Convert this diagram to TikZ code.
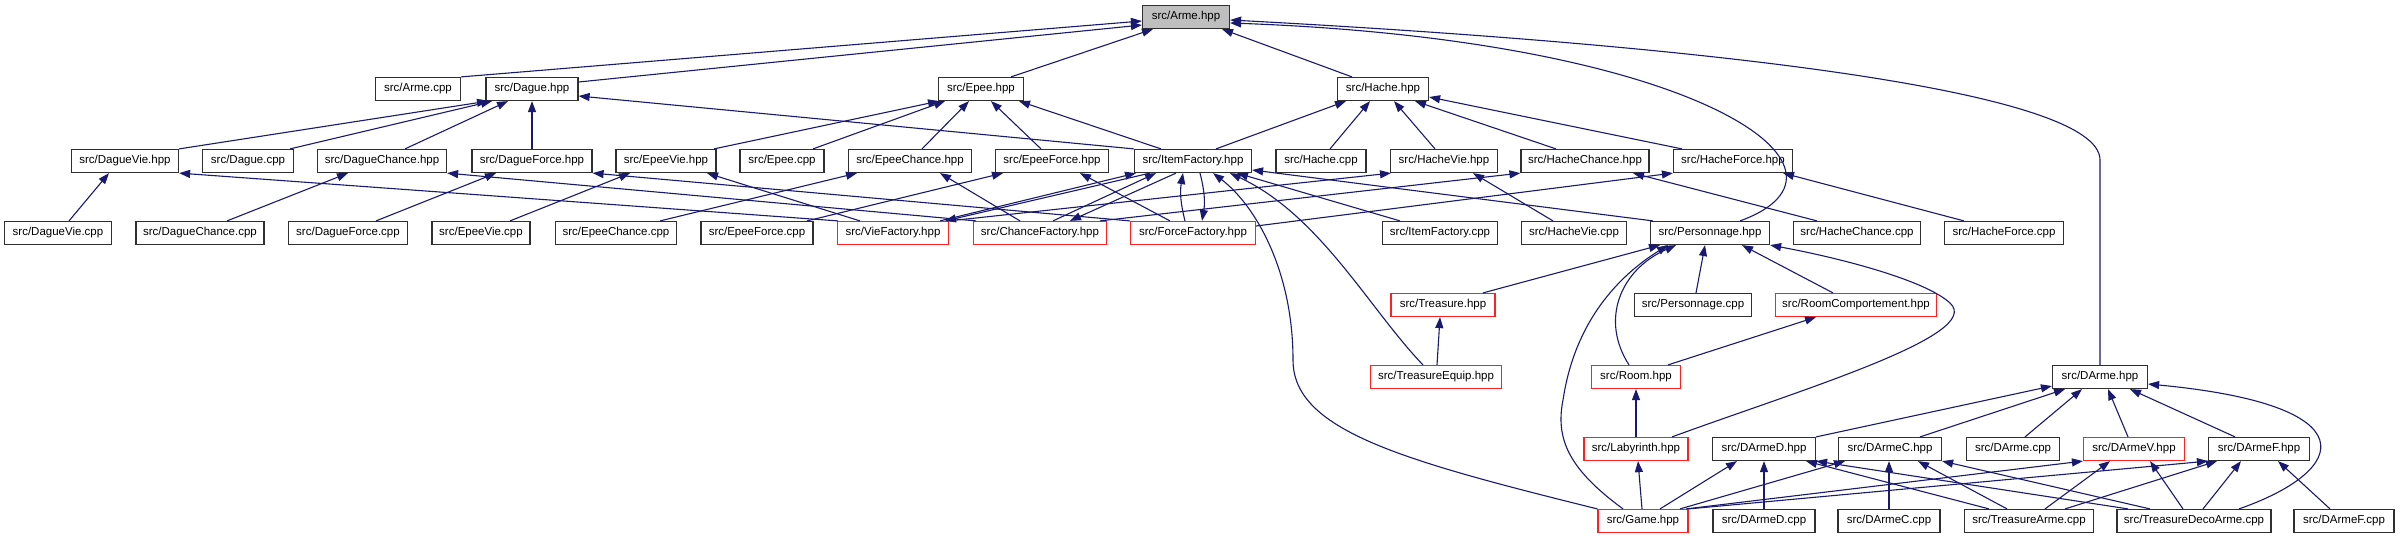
\documentclass[tikz,border=0pt]{standalone}
\usepackage{fontspec}
\setmainfont{Liberation Sans}
\usetikzlibrary{arrows.meta}
\definecolor{dblue}{HTML}{191970}
\definecolor{nred}{HTML}{FF2020}
\definecolor{nborder}{HTML}{303030}
\tikzset{
 box/.style={draw=nborder, line width=1.2pt, fill=white, minimum height=23pt, inner sep=0pt, font=\fontsize{11.5}{13}\selectfont},
 redbox/.style={box, draw=nred},
 rootbox/.style={box, fill=black!25},
 lnk/.style={draw=dblue, line width=1.1pt, -{Triangle[length=11pt,width=8pt]}},
}
\begin{document}
\begin{tikzpicture}[x=1pt,y=-1pt]
\useasboundingbox (0,0) rectangle (2401,539);
% row 0
\node[rootbox,minimum width=87] (ArmeH) at (1186,17) {src/Arme.hpp};
% row 1
\node[box,minimum width=85] (ArmeCpp) at (418,89) {src/Arme.cpp};
\node[box,minimum width=92] (DagueH) at (532,89) {src/Dague.hpp};
\node[box,minimum width=85] (EpeeH) at (981,89) {src/Epee.hpp};
\node[box,minimum width=91] (HacheH) at (1383,89) {src/Hache.hpp};
% row 2
\node[box,minimum width=107] (DagueVieH) at (125,161) {src/DagueVie.hpp};
\node[box,minimum width=91] (DagueCpp) at (248,161) {src/Dague.cpp};
\node[box,minimum width=129] (DagueChanceH) at (382,161) {src/DagueChance.hpp};
\node[box,minimum width=120] (DagueForceH) at (532,161) {src/DagueForce.hpp};
\node[box,minimum width=100] (EpeeVieH) at (666,161) {src/EpeeVie.hpp};
\node[box,minimum width=84] (EpeeCpp) at (782,161) {src/Epee.cpp};
\node[box,minimum width=123] (EpeeChanceH) at (910,161) {src/EpeeChance.hpp};
\node[box,minimum width=113] (EpeeForceH) at (1052,161) {src/EpeeForce.hpp};
\node[box,minimum width=117] (ItemFactoryH) at (1193,161) {src/ItemFactory.hpp};
\node[box,minimum width=90] (HacheCpp) at (1321,161) {src/Hache.cpp};
\node[box,minimum width=107] (HacheVieH) at (1444,161) {src/HacheVie.hpp};
\node[box,minimum width=128] (HacheChanceH) at (1585,161) {src/HacheChance.hpp};
\node[box,minimum width=119] (HacheForceH) at (1733,161) {src/HacheForce.hpp};
% row 3
\node[box,minimum width=107] (DagueVieCpp) at (58,233) {src/DagueVie.cpp};
\node[box,minimum width=128] (DagueChanceCpp) at (200,233) {src/DagueChance.cpp};
\node[box,minimum width=119] (DagueForceCpp) at (348,233) {src/DagueForce.cpp};
\node[box,minimum width=98] (EpeeVieCpp) at (481,233) {src/EpeeVie.cpp};
\node[box,minimum width=121] (EpeeChanceCpp) at (616,233) {src/EpeeChance.cpp};
\node[box,minimum width=112] (EpeeForceCpp) at (757,233) {src/EpeeForce.cpp};
\node[redbox,minimum width=111] (VieFactoryH) at (893,233) {src/VieFactory.hpp};
\node[redbox,minimum width=133] (ChanceFactoryH) at (1040,233) {src/ChanceFactory.hpp};
\node[redbox,minimum width=125] (ForceFactoryH) at (1193,233) {src/ForceFactory.hpp};
\node[box,minimum width=115] (ItemFactoryCpp) at (1440,233) {src/ItemFactory.cpp};
\node[box,minimum width=105] (HacheVieCpp) at (1574,233) {src/HacheVie.cpp};
\node[box,minimum width=119] (PersonnageH) at (1710,233) {src/Personnage.hpp};
\node[box,minimum width=127] (HacheChanceCpp) at (1857,233) {src/HacheChance.cpp};
\node[box,minimum width=119] (HacheForceCpp) at (2004,233) {src/HacheForce.cpp};
% row 4
\node[redbox,minimum width=104] (TreasureH) at (1443,305) {src/Treasure.hpp};
\node[box,minimum width=117] (PersonnageCpp) at (1693,305) {src/Personnage.cpp};
\node[redbox,minimum width=161] (RoomCompH) at (1856,305) {src/RoomComportement.hpp};
% row 5
\node[redbox,minimum width=131] (TreasureEquipH) at (1436,377) {src/TreasureEquip.hpp};
\node[redbox,minimum width=89] (RoomH) at (1636,377) {src/Room.hpp};
\node[box,minimum width=95] (DArmeH) at (2100,377) {src/DArme.hpp};
% row 6
\node[redbox,minimum width=104] (LabyrinthH) at (1636,449) {src/Labyrinth.hpp};
\node[box,minimum width=103] (DArmeDH) at (1764,449) {src/DArmeD.hpp};
\node[box,minimum width=103] (DArmeCH) at (1890,449) {src/DArmeC.hpp};
\node[box,minimum width=93] (DArmeCpp) at (2013,449) {src/DArme.cpp};
\node[redbox,minimum width=101] (DArmeVH) at (2134,449) {src/DArmeV.hpp};
\node[box,minimum width=101] (DArmeFH) at (2259,449) {src/DArmeF.hpp};
% row 7
\node[redbox,minimum width=90] (GameH) at (1643,521) {src/Game.hpp};
\node[box,minimum width=102] (DArmeDCpp) at (1764,521) {src/DArmeD.cpp};
\node[box,minimum width=102] (DArmeCCpp) at (1889,521) {src/DArmeC.cpp};
\node[box,minimum width=129] (TreasureArmeCpp) at (2029,521) {src/TreasureArme.cpp};
\node[box,minimum width=154] (TreasureDecoArmeCpp) at (2194,521) {src/TreasureDecoArme.cpp};
\node[box,minimum width=100] (DArmeFCpp) at (2344,521) {src/DArmeF.cpp};

% ---- edges to Arme.hpp
\draw[lnk] (ArmeCpp.north east) -- ([yshift=-4]ArmeH.west);
\draw[lnk] ([yshift=7]DagueH.east) -- ([yshift=-8]ArmeH.west);
\draw[lnk] ([xshift=30]EpeeH.north) -- ([xshift=-33]ArmeH.south);
\draw[lnk] ([xshift=-31]HacheH.north) -- ([xshift=36]ArmeH.south);
\draw[lnk] ([xshift=30]PersonnageH.north) .. controls (1880,170) and (1700,40) .. ([yshift=-6]ArmeH.east);
\draw[lnk] (DArmeH.north) -- (2100,160) .. controls (2100,90) and (1700,45) .. ([yshift=-3]ArmeH.east);
% ---- to Dague.hpp
\draw[lnk] (DagueVieH.north east) -- ([xshift=-44]DagueH.south);
\draw[lnk] ([xshift=42]DagueCpp.north) -- ([xshift=-40]DagueH.south);
\draw[lnk] ([xshift=23]DagueChanceH.north) -- ([xshift=-24]DagueH.south);
\draw[lnk] (DagueForceH.north) -- (DagueH.south);
\draw[lnk] (ItemFactoryH.north west) -- ([yshift=-7]DagueH.east);
% ---- to Epee.hpp
\draw[lnk] ([xshift=48]EpeeVieH.north) -- ([xshift=-42]EpeeH.south);
\draw[lnk] ([xshift=31]EpeeCpp.north) -- ([xshift=-36]EpeeH.south);
\draw[lnk] ([xshift=12]EpeeChanceH.north) -- ([xshift=-12]EpeeH.south);
\draw[lnk] ([xshift=-11]EpeeForceH.north) -- ([xshift=10]EpeeH.south);
\draw[lnk] ([xshift=-32]ItemFactoryH.north) -- ([xshift=38]EpeeH.south);
% ---- to Hache.hpp
\draw[lnk] ([xshift=23]ItemFactoryH.north) -- ([xshift=-37]HacheH.south);
\draw[lnk] ([xshift=9]HacheCpp.north) -- ([xshift=-13]HacheH.south);
\draw[lnk] ([xshift=-9]HacheVieH.north) -- ([xshift=11]HacheH.south);
\draw[lnk] ([xshift=-29]HacheChanceH.north) -- ([xshift=32]HacheH.south);
\draw[lnk] ([xshift=-51]HacheForceH.north) -- ([yshift=-8]HacheH.east);
% ---- row 3 to row 2
\draw[lnk] ([xshift=11]DagueVieCpp.north) -- ([xshift=-16]DagueVieH.south);
\draw[lnk] ([xshift=27]DagueChanceCpp.north) -- ([xshift=-34]DagueChanceH.south);
\draw[lnk] ([xshift=28]DagueForceCpp.north) -- ([xshift=-36]DagueForceH.south);
\draw[lnk] ([xshift=29]EpeeVieCpp.north) -- ([xshift=-36]EpeeVieH.south);
\draw[lnk] ([xshift=44]EpeeChanceCpp.north) -- ([xshift=-53]EpeeChanceH.south);
\draw[lnk] ([xshift=50]EpeeForceCpp.north) -- ([xshift=-49]EpeeForceH.south);
\draw[lnk] ([xshift=-55]VieFactoryH.north) -- (DagueVieH.south east);
\draw[lnk] ([xshift=-33]VieFactoryH.north) -- ([xshift=41]EpeeVieH.south);
\draw[lnk] (VieFactoryH.north east) -- ([xshift=-53]HacheVieH.south);
\draw[lnk] ([xshift=47]VieFactoryH.north) -- ([xshift=-57]ItemFactoryH.south);
\draw[lnk] ([xshift=-43]ItemFactoryH.south) -- ([xshift=52]VieFactoryH.north);
\draw[lnk] ([xshift=-64]ChanceFactoryH.north) -- (DagueChanceH.south east);
\draw[lnk] ([xshift=-20]ChanceFactoryH.north) -- ([xshift=30]EpeeChanceH.south);
\draw[lnk] ([xshift=60]ChanceFactoryH.north) -- (HacheChanceH.south west);
\draw[lnk] ([xshift=13]ChanceFactoryH.north) -- ([xshift=-37]ItemFactoryH.south);
\draw[lnk] ([xshift=-17]ItemFactoryH.south) -- ([xshift=30]ChanceFactoryH.north);
\draw[lnk] (ForceFactoryH.north west) -- (DagueForceH.south east);
\draw[lnk] ([xshift=-23]ForceFactoryH.north) -- ([xshift=28]EpeeForceH.south);
\draw[lnk] ([yshift=7]ForceFactoryH.east) -- (HacheForceH.south west);
\draw[lnk] ([xshift=-8]ForceFactoryH.north) to[bend left=12] ([xshift=-10]ItemFactoryH.south);
\draw[lnk] ([xshift=7]ItemFactoryH.south) to[bend left=12] ([xshift=9]ForceFactoryH.north);
\draw[lnk] ([xshift=-40]ItemFactoryCpp.north) -- ([xshift=44]ItemFactoryH.south);
\draw[lnk] ([xshift=-57]PersonnageH.north) -- ([yshift=-9]ItemFactoryH.east);
\draw[lnk] ([xshift=-21]HacheVieCpp.north) -- ([xshift=29]HacheVieH.south);
\draw[lnk] ([xshift=-40]HacheChanceCpp.north) -- ([xshift=48]HacheChanceH.south);
\draw[lnk] ([xshift=-40]HacheForceCpp.north) -- ([xshift=50]HacheForceH.south);
\draw[lnk] (GameH.north west) .. controls (1400,460) and (1293,430) .. (1293,360) .. controls (1293,270) and (1255,205) .. ([xshift=20]ItemFactoryH.south);
\draw[lnk] ([xshift=-13]TreasureEquipH.north) .. controls (1370,310) and (1320,215) .. ([xshift=37]ItemFactoryH.south);
% ---- to Personnage.hpp
\draw[lnk] ([xshift=40]TreasureH.north) -- ([xshift=-50]PersonnageH.south);
\draw[lnk] ([xshift=3]PersonnageCpp.north) -- ([xshift=-5]PersonnageH.south);
\draw[lnk] ([xshift=-23]RoomCompH.north) -- ([xshift=32]PersonnageH.south);
\draw[lnk] ([xshift=-7]RoomH.north) .. controls (1600,320) and (1620,270) .. ([xshift=-34]PersonnageH.south);
\draw[lnk] ([xshift=-20]GameH.north) .. controls (1570,470) and (1555,440) .. (1563,400) .. controls (1575,320) and (1620,275) .. ([xshift=-42]PersonnageH.south);
\draw[lnk] ([xshift=36]LabyrinthH.north) .. controls (1800,390) and (1985,335) .. (1950,303) .. controls (1925,280) and (1840,258) .. (PersonnageH.south east);
% ---- lower
\draw[lnk] ([xshift=1]TreasureEquipH.north) -- ([xshift=-3]TreasureH.south);
\draw[lnk] ([xshift=32]RoomH.north) -- ([xshift=-40]RoomCompH.south);
\draw[lnk] (LabyrinthH.north) -- (RoomH.south);
\draw[lnk] ([xshift=-1]GameH.north) -- ([xshift=2]LabyrinthH.south);
% ---- to DArme.hpp
\draw[lnk] (DArmeDH.north east) -- ([yshift=-9]DArmeH.west);
\draw[lnk] ([xshift=30]DArmeCH.north) -- ([xshift=-35]DArmeH.south);
\draw[lnk] ([xshift=12]DArmeCpp.north) -- ([xshift=-18]DArmeH.south);
\draw[lnk] ([xshift=-6]DArmeVH.north) -- ([xshift=8]DArmeH.south);
\draw[lnk] ([xshift=-24]DArmeFH.north) -- ([xshift=30]DArmeH.south);
\draw[lnk] ([xshift=45]TreasureDecoArmeCpp.north) .. controls (2350,470) and (2370,405) .. ([yshift=-7]DArmeH.east);
% ---- row 7 to row 6
\draw[lnk] ([xshift=17]GameH.north) -- ([xshift=-27]DArmeDH.south);
\draw[lnk] (DArmeDCpp.north) -- (DArmeDH.south);
\draw[lnk] ([xshift=37]GameH.north) -- ([xshift=-45]DArmeCH.south);
\draw[lnk] ([xshift=43]GameH.north) -- (DArmeVH.south west);
\draw[lnk] (GameH.north east) -- (DArmeFH.south west);
\draw[lnk] (DArmeCCpp.north) -- ([xshift=-1]DArmeCH.south);
\draw[lnk] ([xshift=-40]TreasureArmeCpp.north) -- ([xshift=42]DArmeDH.south);
\draw[lnk] ([xshift=-22]TreasureArmeCpp.north) -- ([xshift=28]DArmeCH.south);
\draw[lnk] ([xshift=16]TreasureArmeCpp.north) -- ([xshift=-24]DArmeVH.south);
\draw[lnk] ([xshift=36]TreasureArmeCpp.north) -- ([xshift=-42]DArmeFH.south);
\draw[lnk] ([xshift=-66]TreasureDecoArmeCpp.north) -- (DArmeDH.south east);
\draw[lnk] ([xshift=-44]TreasureDecoArmeCpp.north) -- (DArmeCH.south east);
\draw[lnk] ([xshift=-11]TreasureDecoArmeCpp.north) -- ([xshift=16]DArmeVH.south);
\draw[lnk] ([xshift=9]TreasureDecoArmeCpp.north) -- ([xshift=-18]DArmeFH.south);
\draw[lnk] ([xshift=-14]DArmeFCpp.north) -- ([xshift=19]DArmeFH.south);
\end{tikzpicture}
\end{document}
